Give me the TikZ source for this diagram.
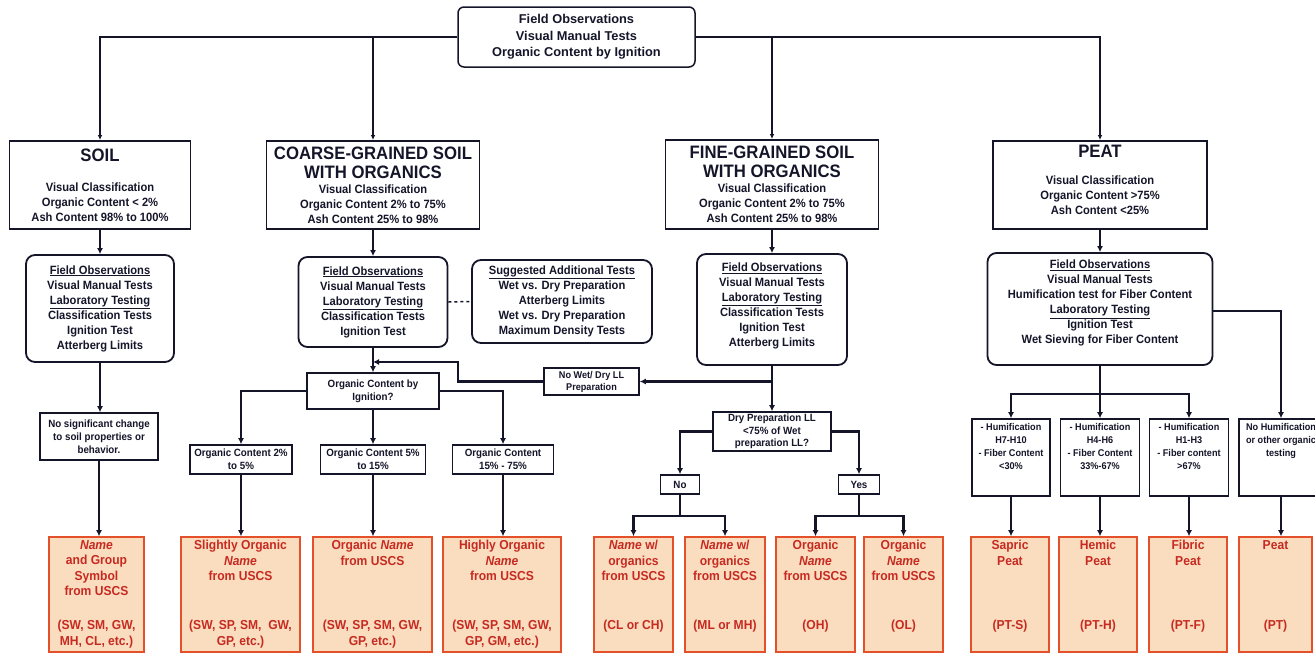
\documentclass[tikz,border=0pt]{standalone}
\usepackage{fontspec}
\setmainfont{Liberation Sans}
\newfontfamily\nf{Liberation Sans}[FakeStretch=0.93]
\usetikzlibrary{arrows.meta}
\definecolor{ink}{HTML}{15152A}
\definecolor{ored}{HTML}{E4502A}
\definecolor{ofill}{HTML}{FADDBE}
\definecolor{otxt}{HTML}{C62A22}
\newcommand{\ttl}{\fontsize{18}{19}\selectfont}
\begin{document}
\begin{tikzpicture}[x=1pt,y=-1pt,
 box/.style={draw=ink, line width=1.8pt, inner sep=0pt, align=center, text=ink, font=\nf\bfseries\fontsize{12}{15}\selectfont},
 rbox/.style={box, rounded corners=9pt},
 sbox/.style={box, line width=1.6pt, font=\nf\bfseries\fontsize{10.5}{13}\selectfont},
 pbox/.style={box, line width=1.6pt, font=\nf\bfseries\fontsize{9.8}{13}\selectfont},
 obox/.style={draw=ored, fill=ofill, line width=1.6pt, inner sep=0pt, minimum height=115pt},
 otext/.style={inner sep=0pt, align=center, text=otxt, anchor=north, font=\nf\bfseries\fontsize{13}{15.5}\selectfont},
 conn/.style={draw=ink, line width=2.4pt, -{Latex[length=6pt,width=6pt]}},
 plain/.style={draw=ink, line width=2.4pt},
 thinconn/.style={draw=ink, line width=1.2pt, -{Latex[length=5pt,width=4.5pt]}},
]
\clip (0,0) rectangle (1315,654);
\fill[white] (0,0) rectangle (1315,654);

% top
\node[rbox, rounded corners=6pt, line width=1.5pt, minimum width=237pt, minimum height=60pt, font=\rmfamily\bfseries\fontsize{12.8}{16.5}\selectfont] (top) at (576.5,37) {Field Observations\\Visual Manual Tests\\Organic Content by Ignition};

% category boxes
\node[box, minimum width=181pt, minimum height=88pt] (soil) at (100,185) {{\ttl SOIL}\\[15pt]Visual Classification\\Organic Content < 2\%\\Ash Content 98\% to 100\%};
\node[box, minimum width=213pt, minimum height=88pt] (coarse) at (373,185) {{\ttl COARSE-GRAINED SOIL}\\[4pt]{\ttl WITH ORGANICS}\\Visual Classification\\Organic Content 2\% to 75\%\\Ash Content 25\% to 98\%};
\node[box, minimum width=213pt, minimum height=89pt] (fine) at (772,184.5) {{\ttl FINE-GRAINED SOIL}\\[4pt]{\ttl WITH ORGANICS}\\Visual Classification\\Organic Content 2\% to 75\%\\Ash Content 25\% to 98\%};
\node[box, minimum width=214pt, minimum height=88pt, text depth=10pt] (peat) at (1100,185) {{\ttl PEAT}\\[12pt]Visual Classification\\Organic Content >75\%\\Ash Content <25\%};

% test boxes
\node[rbox, minimum width=148pt, minimum height=107pt] (r1) at (100,308.5) {\underline{Field Observations}\\Visual Manual Tests\\\underline{Laboratory Testing}\\Classification Tests\\Ignition Test\\Atterberg Limits};
\node[rbox, minimum width=149pt, minimum height=90pt] (r2) at (373,302) {\underline{Field Observations}\\Visual Manual Tests\\\underline{Laboratory Testing}\\Classification Tests\\Ignition Test};
\node[rbox, minimum width=180pt, minimum height=83pt] (sugg) at (562,301.5) {\underline{Suggested Additional Tests}\\Wet vs. Dry Preparation\\Atterberg Limits\\Wet vs. Dry Preparation\\Maximum Density Tests};
\node[rbox, minimum width=150pt, minimum height=111pt, text depth=10pt] (r3) at (772,309.5) {\underline{Field Observations}\\Visual Manual Tests\\\underline{Laboratory Testing}\\Classification Tests\\Ignition Test\\Atterberg Limits};
\node[rbox, minimum width=225pt, minimum height=112pt, text depth=14pt] (r4) at (1100,309) {\underline{Field Observations}\\Visual Manual Tests\\Humification test for Fiber Content\\\underline{Laboratory Testing}\\Ignition Test\\Wet Sieving for Fiber Content};

% decision boxes
\node[sbox, minimum width=118pt, minimum height=47pt] (ns) at (99,436.5) {No significant change\\to soil properties or\\behavior.};
\node[sbox, minimum width=132pt, minimum height=36pt] (ig) at (373,391) {Organic Content by\\Ignition?};
\node[sbox, minimum width=102pt, minimum height=29pt] (c1) at (241,459.5) {Organic Content 2\%\\to 5\%};
\node[sbox, minimum width=105pt, minimum height=29pt] (c2) at (373,459.5) {Organic Content 5\%\\to 15\%};
\node[sbox, minimum width=101pt, minimum height=29pt] (c3) at (503,459.5) {Organic Content\\15\% - 75\%};
\node[sbox, minimum width=95pt, minimum height=27pt, font=\nf\bfseries\fontsize{9.8}{12}\selectfont] (nw) at (591.5,381.5) {No Wet/ Dry LL\\Preparation};
\node[sbox, minimum width=118pt, minimum height=39pt, font=\nf\bfseries\fontsize{10.5}{12.5}\selectfont] (dry) at (772,431.5) {Dry Preparation LL\\<75\% of Wet\\preparation LL?};
\node[sbox, minimum width=39pt, minimum height=19pt] (no) at (680,484.5) {No};
\node[sbox, minimum width=41pt, minimum height=19pt] (yes) at (859,484.5) {Yes};
\node[pbox, minimum width=78pt, minimum height=77pt, text depth=22pt] (h1) at (1011,457.5) {- Humification\\H7-H10\\- Fiber Content\\<30\%};
\node[pbox, minimum width=79pt, minimum height=77pt, text depth=22pt] (h2) at (1100,457.5) {- Humification\\H4-H6\\- Fiber Content\\33\%-67\%};
\node[pbox, minimum width=79pt, minimum height=77pt, text depth=22pt] (h3) at (1189,457.5) {- Humification\\H1-H3\\- Fiber content\\>67\%};
\node[pbox, minimum width=84pt, minimum height=77pt, text depth=36pt] (h4) at (1281,457.5) {No Humification\\or other organic\\testing};

% result boxes
\node[obox, minimum width=95pt] (o1) at (96.5,594.5) {};
\node[obox, minimum width=119pt] (o2) at (240.5,594.5) {};
\node[obox, minimum width=119pt] (o3) at (372.5,594.5) {};
\node[obox, minimum width=118pt] (o4) at (502,594.5) {};
\node[obox, minimum width=79pt] (o5) at (633.5,594.5) {};
\node[obox, minimum width=80pt] (o6) at (725,594.5) {};
\node[obox, minimum width=79pt] (o7) at (815.5,594.5) {};
\node[obox, minimum width=79pt] (o8) at (903.5,594.5) {};
\node[obox, minimum width=78pt] (o9) at (1010,594.5) {};
\node[obox, minimum width=78pt] (o10) at (1098,594.5) {};
\node[obox, minimum width=78pt] (o11) at (1188,594.5) {};
\node[obox, minimum width=73pt] (o12) at (1275.5,594.5) {};

\node[otext] (o1a) at ([yshift=-4pt]o1.north) {\textit{Name}\\and Group\\Symbol\\from USCS};
\node[otext] (o1b) at ([yshift=-84pt]o1.north) {(SW, SM, GW,\\MH, CL, etc.)};
\node[otext] (o2a) at ([yshift=-4pt]o2.north) {Slightly Organic\\\textit{Name}\\from USCS};
\node[otext] (o2b) at ([yshift=-84pt]o2.north) {(SW, SP, SM,\ \ GW,\\GP, etc.)};
\node[otext] (o3a) at ([yshift=-4pt]o3.north) {Organic \textit{Name}\\from USCS};
\node[otext] (o3b) at ([yshift=-84pt]o3.north) {(SW, SP, SM, GW,\\GP, etc.)};
\node[otext] (o4a) at ([yshift=-4pt]o4.north) {Highly Organic\\\textit{Name}\\from USCS};
\node[otext] (o4b) at ([yshift=-84pt]o4.north) {(SW, SP, SM, GW,\\GP, GM, etc.)};
\node[otext] (o5a) at ([yshift=-4pt]o5.north) {\textit{Name} w/\\organics\\from USCS};
\node[otext] (o5b) at ([yshift=-84pt]o5.north) {(CL or CH)};
\node[otext] (o6a) at ([yshift=-4pt]o6.north) {\textit{Name} w/\\organics\\from USCS};
\node[otext] (o6b) at ([yshift=-84pt]o6.north) {(ML or MH)};
\node[otext] (o7a) at ([yshift=-4pt]o7.north) {Organic\\\textit{Name}\\from USCS};
\node[otext] (o7b) at ([yshift=-84pt]o7.north) {(OH)};
\node[otext] (o8a) at ([yshift=-4pt]o8.north) {Organic\\\textit{Name}\\from USCS};
\node[otext] (o8b) at ([yshift=-84pt]o8.north) {(OL)};
\node[otext] (o9a) at ([yshift=-4pt]o9.north) {Sapric\\Peat};
\node[otext] (o9b) at ([yshift=-84pt]o9.north) {(PT-S)};
\node[otext] (o10a) at ([yshift=-4pt]o10.north) {Hemic\\Peat};
\node[otext] (o10b) at ([yshift=-84pt]o10.north) {(PT-H)};
\node[otext] (o11a) at ([yshift=-4pt]o11.north) {Fibric\\Peat};
\node[otext] (o11b) at ([yshift=-84pt]o11.north) {(PT-F)};
\node[otext] (o12a) at ([yshift=-4pt]o12.north) {Peat};
\node[otext] (o12b) at ([yshift=-84pt]o12.north) {(PT)};

% connectors from top
\draw[thinconn] (top.west) -| (soil.north);
\draw[thinconn] (top.west -| coarse.north) -- (coarse.north);
\draw[thinconn] (top.east) -| (peat.north);
\draw[thinconn] (top.east -| fine.north) -- (fine.north);

% soil column
\draw[conn] (soil.south) -- (soil.south |- r1.north);
\draw[conn] (r1.south) -- (r1.south |- ns.north);
\draw[conn] (ns.south) -- (ns.south |- o1.north);

% coarse column
\draw[conn] (coarse.south) -- (coarse.south |- r2.north);
\draw[draw=ink, line width=1.5pt, dashed] (r2.east) -- (sugg.west);
\draw[conn] (r2.south) -- (r2.south |- ig.north);
\coordinate (jc) at (373,362);
\draw[conn] (nw.west) -| (458,362) -- (jc);
\draw[conn] (ig.west) -| (c1.north);
\draw[conn] (ig.south) -- (ig.south |- c2.north);
\draw[conn] (ig.east) -| (c3.north);
\draw[conn] (c1.south) -- (c1.south |- o2.north);
\draw[conn] (c2.south) -- (c2.south |- o3.north);
\draw[conn] (c3.south) -- (c3.south |- o4.north);

% fine column
\draw[conn] (fine.south) -- (fine.south |- r3.north);
\draw[conn] (r3.south) -- (r3.south |- dry.north);
\draw[conn] (r3.south |- nw.east) -- (nw.east);
\draw[conn] (dry.west) -| (no.north);
\draw[conn] (dry.east) -| (yes.north);
\coordinate (nj) at ([yshift=-21pt]no.south);
\coordinate (yj) at ([yshift=-21pt]yes.south);
\draw[plain] (no.south) -- (nj);
\draw[plain] (yes.south) -- (yj);
\draw[conn] (nj) -| (o5.north);
\draw[conn] (nj) -| (o6.north);
\draw[conn] (yj) -| (o7.north);
\draw[conn] (yj) -| (o8.north);

% peat column
\draw[conn] (peat.south) -- (peat.south |- r4.north);
\coordinate (pj) at ([yshift=-28pt]r4.south);
\draw[plain] (r4.south) -- (pj);
\draw[conn] (pj) -| (h1.north);
\draw[conn] (pj) -- (pj |- h2.north);
\draw[conn] (pj) -| (h3.north);
\draw[conn] ([yshift=-2pt]r4.east) -| (h4.north);
\draw[conn] (h1.south) -- (h1.south |- o9.north);
\draw[conn] (h2.south) -- (h2.south |- o10.north);
\draw[conn] (h3.south) -- (h3.south |- o11.north);
\draw[conn] (h4.south) -- (h4.south |- o12.north);
\end{tikzpicture}
\end{document}
